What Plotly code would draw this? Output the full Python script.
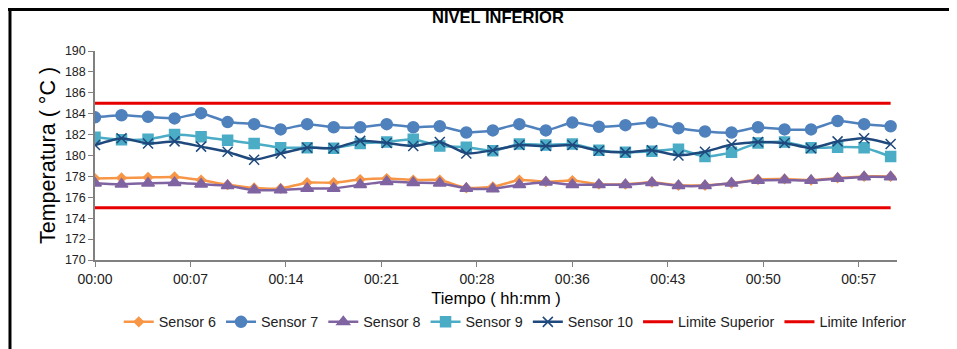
import plotly.graph_objects as go

# time of each reading, minutes from start
tiempo = [0, 2, 4, 6, 8, 10, 12, 14, 16, 18, 20, 22, 24, 26, 28, 30,
          32, 34, 36, 38, 40, 42, 44, 46, 48, 50, 52, 54, 56, 58, 60]

sensor6 = [177.8, 177.85, 177.9, 177.95, 177.65, 177.2, 176.9, 176.85, 177.4, 177.4,
           177.7, 177.8, 177.65, 177.65, 176.9, 177.0, 177.65, 177.5, 177.6, 177.25,
           177.25, 177.45, 177.15, 177.15, 177.35, 177.7, 177.75, 177.65, 177.85, 178.0, 178.0]
sensor7 = [183.65, 183.85, 183.7, 183.55, 184.05, 183.2, 183.0, 182.5, 183.0, 182.7,
           182.7, 183.0, 182.7, 182.8, 182.2, 182.4, 183.0, 182.4, 183.15, 182.75,
           182.9, 183.15, 182.6, 182.3, 182.2, 182.7, 182.5, 182.5, 183.3, 183.0, 182.8]
sensor8 = [177.35, 177.25, 177.35, 177.4, 177.25, 177.1, 176.7, 176.7, 176.85, 176.85,
           177.2, 177.5, 177.4, 177.35, 176.85, 176.8, 177.2, 177.45, 177.2, 177.2,
           177.2, 177.4, 177.1, 177.1, 177.35, 177.6, 177.65, 177.6, 177.8, 177.95, 177.95]
sensor9 = [181.75, 181.5, 181.55, 182.0, 181.8, 181.45, 181.15, 180.75, 180.75, 180.7,
           181.15, 181.3, 181.55, 180.9, 180.8, 180.45, 181.1, 181.0, 181.1, 180.5,
           180.3, 180.4, 180.6, 179.9, 180.3, 181.2, 181.3, 180.75, 180.8, 180.75, 179.9]
sensor10 = [181.0, 181.65, 181.15, 181.35, 180.85, 180.35, 179.6, 180.2, 180.75, 180.7,
            181.4, 181.2, 180.9, 181.3, 180.2, 180.5, 181.0, 180.9, 181.0, 180.45,
            180.3, 180.5, 180.0, 180.35, 181.05, 181.3, 181.2, 180.7, 181.35, 181.65, 181.1]
limite_sup = [185] * 31
limite_inf = [175] * 31

tick_labels = ["00:00", "00:07", "00:14", "00:21", "00:28", "00:36", "00:43", "00:50", "00:57"]
tick_pos = [7.2 * i for i in range(len(tick_labels))]

font = "Liberation Sans, Arial, sans-serif"

fig = go.Figure()

series = [
    ("Sensor 6", sensor6, "#F79646", "diamond", 7),
    ("Sensor 7", sensor7, "#4F81BD", "circle", 11),
    ("Sensor 8", sensor8, "#8064A2", "triangle-up", 11),
    ("Sensor 9", sensor9, "#4BACC6", "square", 10),
    ("Sensor 10", sensor10, "#1F497D", "x-thin-open", 10),
]
for name, vals, color, sym, size in series:
    fig.add_trace(go.Scatter(
        x=tiempo, y=vals, name=name, mode="lines+markers",
        line=dict(color=color, width=2.5, shape="spline", smoothing=0.5),
        marker=dict(symbol=sym, size=size, color=color,
                    line=dict(color=color, width=1.5)),
    ))

fig.add_trace(go.Scatter(x=tiempo, y=limite_sup, name="Limite Superior", mode="lines",
                         line=dict(color="#E60000", width=3)))
fig.add_trace(go.Scatter(x=tiempo, y=limite_inf, name="Limite Inferior", mode="lines",
                         line=dict(color="#E60000", width=3)))

# the page body adds 8px, so margins are shifted to keep the plot where it belongs
fig.update_layout(
    width=957, height=349,
    margin=dict(l=87, r=68, t=43, b=97, autoexpand=False),
    paper_bgcolor="white", plot_bgcolor="white",
    font=dict(family=font, size=12, color="#222222"),
    title=dict(text="<b>NIVEL INFERIOR</b>", x=0.512, xanchor="center", y=0.975, yanchor="middle",
               font=dict(size=16.5, color="black")),
    showlegend=True,
    legend=dict(orientation="h", x=0.524, xanchor="center", y=-0.297, yanchor="middle",
                font=dict(size=14.3, color="#222222"), itemwidth=30, tracegroupgap=0),
    shapes=[
        dict(type="line", xref="paper", yref="paper", x0=-0.11, x1=1.1, y0=1.199, y1=1.199,
             line=dict(color="black", width=3)),
        dict(type="line", xref="paper", yref="paper", x0=-0.106, x1=-0.106, y0=-0.45, y1=1.199,
             line=dict(color="black", width=3)),
    ],
)

fig.update_xaxes(
    range=[0, 60.48], tickvals=tick_pos, ticktext=tick_labels,
    showline=True, linecolor="#808080", linewidth=1.5,
    ticks="outside", ticklen=5, tickcolor="#808080",
    showgrid=False, zeroline=False, tickfont=dict(size=14),
    title=dict(text="Tiempo ( hh:mm )", font=dict(size=16.5, color="black"), standoff=7),
)
fig.update_yaxes(
    range=[170, 190], dtick=2,
    showline=True, linecolor="#808080", linewidth=1.5,
    ticks="outside", ticklen=5, tickcolor="#808080",
    showgrid=False, zeroline=False, tickfont=dict(size=12.5),
    title=dict(text="Temperatura ( °C )", font=dict(size=21.5, color="black"), standoff=3),
)

fig.write_html("out.html")
